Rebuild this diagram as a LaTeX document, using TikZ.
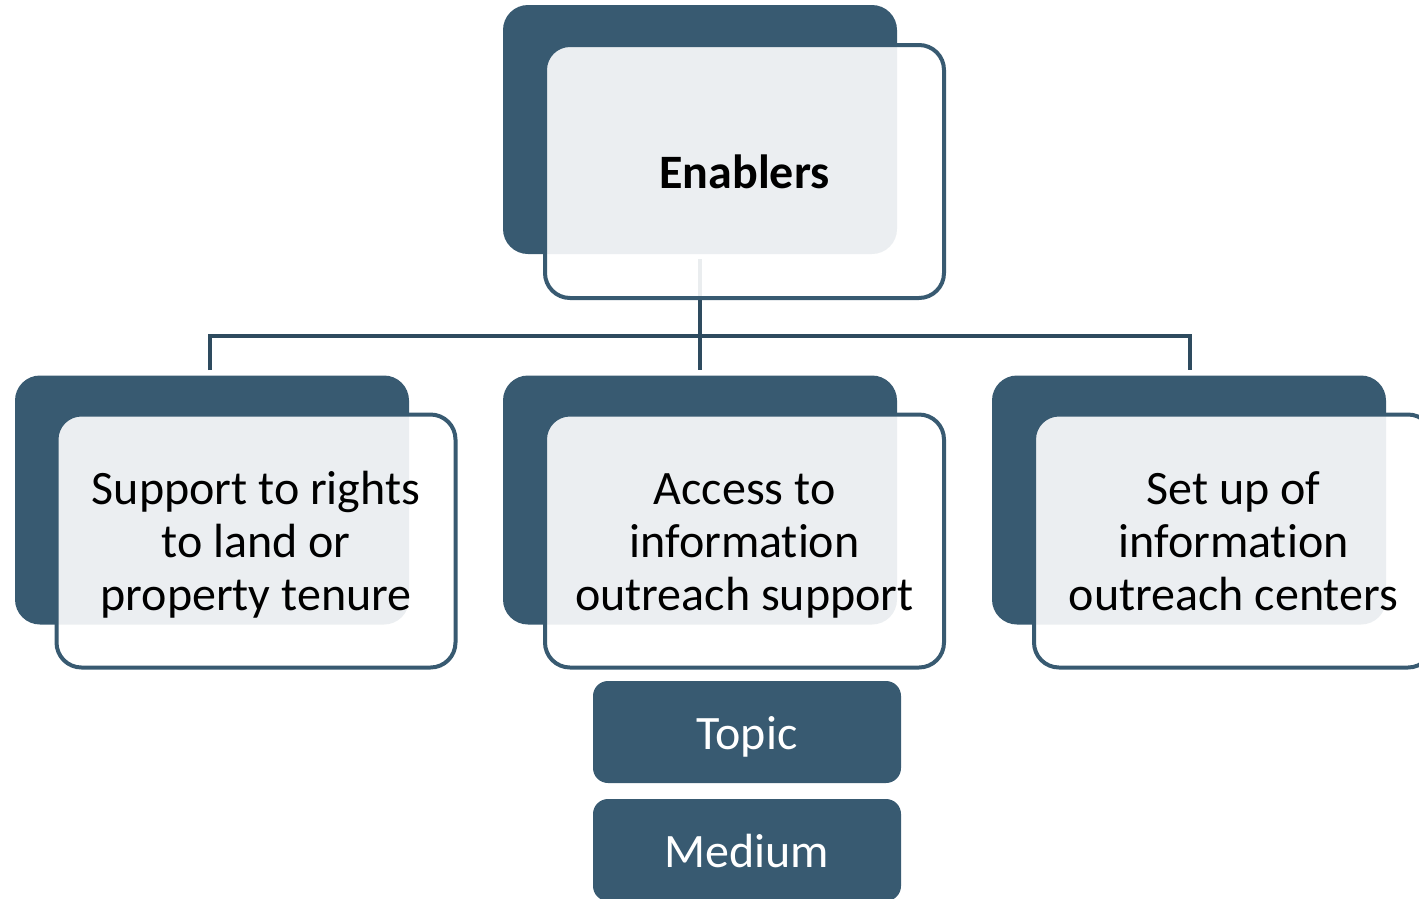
\documentclass[tikz,border=0pt]{standalone}
\usepackage{fontspec}
\setmainfont{Carlito}[Ligatures={NoCommon,NoContextual},Contextuals=NoAlternate]
\definecolor{dk}{HTML}{385A71}
\definecolor{ln}{HTML}{2E4B5F}
\newcommand{\dropby}[2]{\raisebox{-#1}[\height][\depth]{#2}}
\begin{document}
\begin{tikzpicture}[x=1pt,y=-1pt,
  back/.style={fill=dk, rounded corners=25pt, minimum width=394pt, minimum height=249pt, inner sep=0pt},
  front/.style={draw=dk, line width=4pt, fill=white, fill opacity=0.9, text opacity=1, rounded corners=25pt, minimum width=399pt, minimum height=253pt, inner sep=0pt, align=center, font=\fontsize{48}{53}\selectfont},
  tag/.style={fill=dk, rounded corners=15pt, minimum width=308pt, minimum height=102pt, inner sep=0pt, text=white, font=\fontsize{48}{53}\selectfont},
  conn/.style={draw=ln, line width=4.5pt}]
\useasboundingbox (0,0) rectangle (1419,898);
% back boxes
\node[back] (b0) at (700,129.5) {};
\node[back] (b1) at (212,500) {};
\node[back] (b2) at (700,500) {};
\node[back] (b3) at (1189,500) {};
% connectors
\coordinate (c0) at (700,259);
\coordinate (j0) at (700,336);
\coordinate (t1) at (210,370);
\coordinate (t2) at (700,370);
\coordinate (t3) at (1190,370);
\draw[conn] (c0) -- (j0);
\draw[conn] (t1) |- (j0) -| (t3);
\draw[conn] (j0) -- (t2);
% front boxes
\node[front] (f0) at (744.5,171.5) {\textbf{Enablers}};
\node[front] (f1) at (256,541) {\dropby{5.5pt}{\begin{tabular}{@{}c@{}}Support to rights\\to land or\\property tenure\end{tabular}}};
\node[front] (f2) at (744.5,541) {\dropby{5.5pt}{\begin{tabular}{@{}c@{}}Access to\\information\\outreach support\end{tabular}}};
\node[front] (f3) at (1233.5,541) {\dropby{5.5pt}{\begin{tabular}{@{}c@{}}Set up of\\information\\outreach centers\end{tabular}}};
% tags
\node[tag] (topic) at (747,732) {\dropby{5pt}{Topic}};
\node[tag] (medium) at (747,850) {\dropby{1pt}{Medium}};
\end{tikzpicture}
\end{document}
